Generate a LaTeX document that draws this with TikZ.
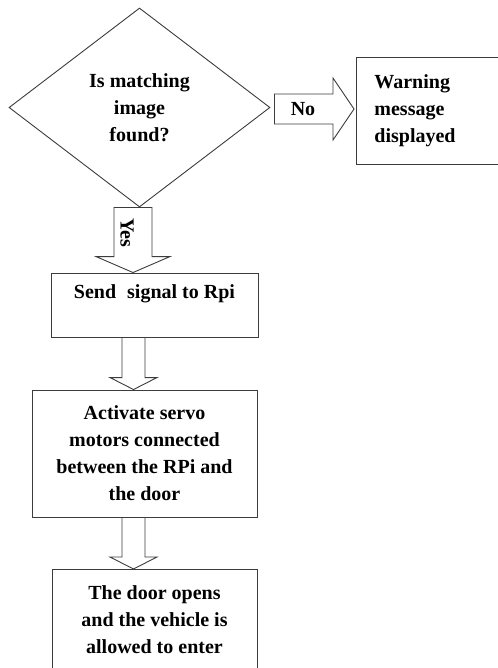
\documentclass[tikz,border=0pt]{standalone}
\usepackage{fontspec}
\setmainfont{Liberation Serif}[BoldFont={Liberation Serif Bold}]
\usetikzlibrary{shapes.geometric,calc}
\definecolor{ln}{HTML}{3C3C3C}
\begin{document}
\begin{tikzpicture}[x=1pt,y=-1pt,
  every node/.style={font=\rmfamily\fontsize{20}{27}\selectfont\bfseries, text=black},
  box/.style={draw=ln, line width=0.9pt, rectangle, inner sep=0pt, align=center},
  blk/.style={draw=ln, line width=0.9pt, fill=white, line join=miter}]
\useasboundingbox (0,0) rectangle (497,668);
% decision
\node[draw=ln, line width=0.9pt, diamond, minimum width=261pt, minimum height=199pt,
      inner sep=0pt, align=center] (dec) at (139.5,107.5) {Is matching\\image\\found?};
% warning box
\node[box, align=left, text width=118pt, inner xsep=18pt, minimum height=107pt,
      anchor=west] (warn) at (356,110.5) {Warning\\message\\displayed};
% process boxes
\node[box, minimum width=207pt, minimum height=64pt] (send) at (154.5,305)
      {Send\hspace{0.3em} signal to Rpi\\\mbox{}};
\node[box, minimum width=225pt, minimum height=127pt] (act) at (144.5,453.5)
      {Activate servo\\motors connected\\between the RPi and\\the door};
\node[box, minimum width=205pt, minimum height=127pt, anchor=north] (last) at (154.5,569)
      {The door opens\\and the vehicle is\\allowed to enter\\\mbox{}};
% block-arrow axes
\coordinate (ax1) at (133,0);
\coordinate (ax2) at (133.5,0);
\coordinate (ay) at (0,109);
% No arrow
\draw[blk] ($(ay -| dec.east)+(4,-15)$) -- ($(ay -| warn.west)+(-23,-15)$)
  -- ($(ay -| warn.west)+(-23,-31)$) -- ($(ay -| warn.west)+(-2,0)$)
  -- ($(ay -| warn.west)+(-23,31)$) -- ($(ay -| warn.west)+(-23,15)$)
  -- ($(ay -| dec.east)+(4,15)$) -- cycle;
\node (no) at (303,109.5) {No};
% Yes arrow
\draw[blk] ($(ax1 |- dec.south)+(-19,0)$) -- ($(ax1 |- dec.south)+(19,0)$)
  -- ($(ax1 |- send.north)+(19,-16)$) -- ($(ax1 |- send.north)+(37,-16)$)
  -- (ax1 |- send.north) -- ($(ax1 |- send.north)+(-37,-16)$)
  -- ($(ax1 |- send.north)+(-19,-16)$) -- cycle;
\node[rotate=-90] (yes) at (127,233) {Yes};
% send -> act
\draw[blk] ($(ax2 |- send.south)+(-11.5,0)$) -- ($(ax2 |- send.south)+(11.5,0)$)
  -- ($(ax2 |- act.north)+(11.5,-12)$) -- ($(ax2 |- act.north)+(23.5,-12)$)
  -- (ax2 |- act.north) -- ($(ax2 |- act.north)+(-23.5,-12)$)
  -- ($(ax2 |- act.north)+(-11.5,-12)$) -- cycle;
% act -> last
\draw[blk] ($(ax2 |- act.south)+(-11.5,0)$) -- ($(ax2 |- act.south)+(11.5,0)$)
  -- ($(ax2 |- last.north)+(11.5,-12)$) -- ($(ax2 |- last.north)+(23.5,-12)$)
  -- (ax2 |- last.north) -- ($(ax2 |- last.north)+(-23.5,-12)$)
  -- ($(ax2 |- last.north)+(-11.5,-12)$) -- cycle;
\end{tikzpicture}
\end{document}
